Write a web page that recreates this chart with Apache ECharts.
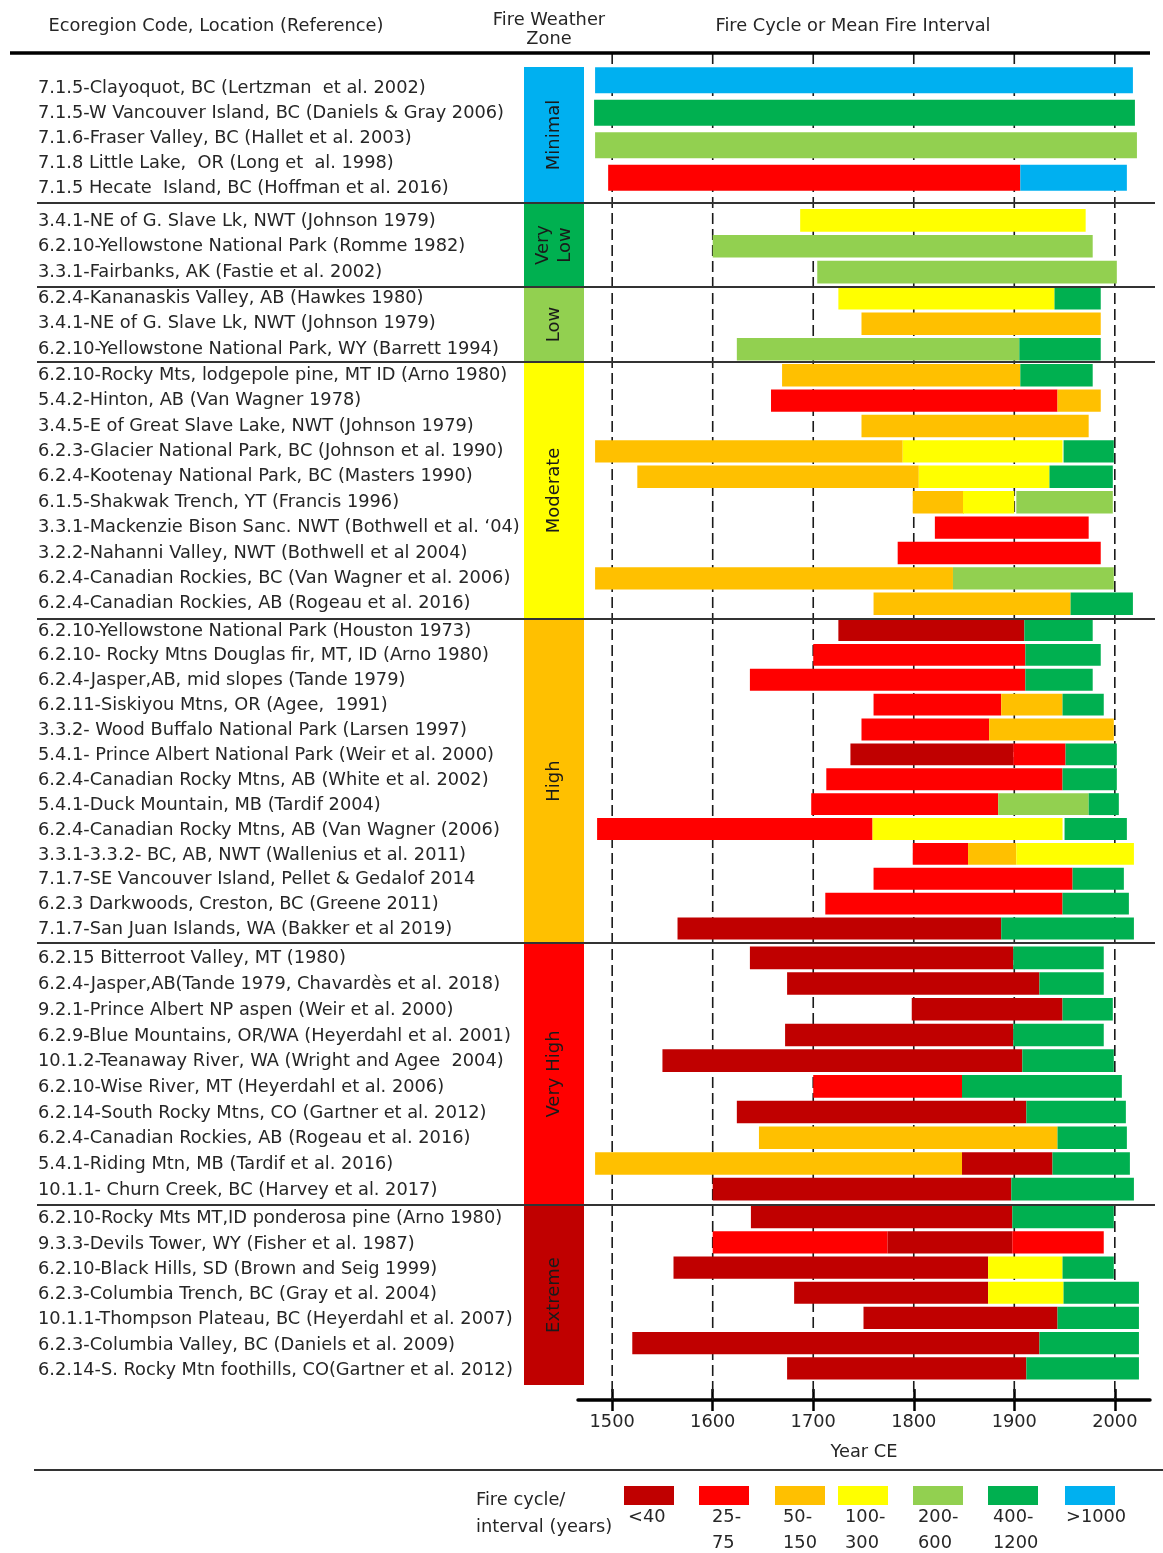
<!DOCTYPE html>
<html><head><meta charset="utf-8">
<script src="https://cdn.jsdelivr.net/npm/echarts@6/dist/echarts.min.js"></script>
<style>html,body{margin:0;padding:0;background:#fff}#c{width:1163px;height:1553px}</style>
</head><body><div id="c"></div>
<script>
// ---------- DATA ----------
const classNames = ['<40', '25-\n75', '50-\n150', '100-\n300', '200-\n600', '400-\n1200', '>1000'];
const classColors = ['#C00000', '#FF0000', '#FFC000', '#FFFF00', '#92D050', '#00B050', '#00B0F0'];
const zoneNames = ['Minimal', 'Very\nLow', 'Low', 'Moderate', 'High', 'Very High', 'Extreme'];
const zoneClass = [6, 5, 4, 3, 2, 1, 0];
const tickYears = [1500, 1600, 1700, 1800, 1900, 2000];

const minimalLabels = [
  '7.1.5-Clayoquot, BC (Lertzman  et al. 2002)',
  '7.1.5-W Vancouver Island, BC (Daniels & Gray 2006)',
  '7.1.6-Fraser Valley, BC (Hallet et al. 2003)',
  '7.1.8 Little Lake,  OR (Long et  al. 1998)',
  '7.1.5 Hecate  Island, BC (Hoffman et al. 2016)'
];
// segments: [start year, end year, class index]
const minimalBars = [
  [[1483, 2018, 6]],
  [[1482, 2020, 5]],
  [[1483, 2022, 4]],
  [[1496, 1906, 1], [1906, 2012, 6]]
];
const veryLowLabels = [
  '3.4.1-NE of G. Slave Lk, NWT (Johnson 1979)',
  '6.2.10-Yellowstone National Park (Romme 1982)',
  '3.3.1-Fairbanks, AK (Fastie et al. 2002)'
];
const veryLowBars = [
  [[1687, 1971, 3]],
  [[1600, 1978, 4]],
  [[1704, 2002, 4]]
];
const lowLabels = [
  '6.2.4-Kananaskis Valley, AB (Hawkes 1980)',
  '3.4.1-NE of G. Slave Lk, NWT (Johnson 1979)',
  '6.2.10-Yellowstone National Park, WY (Barrett 1994)'
];
const lowBars = [
  [[1725, 1940, 3], [1940, 1986, 5]],
  [[1748, 1986, 2]],
  [[1624, 1905, 4], [1905, 1986, 5]]
];
const moderateLabels = [
  '6.2.10-Rocky Mts, lodgepole pine, MT ID (Arno 1980)',
  '5.4.2-Hinton, AB (Van Wagner 1978)',
  '3.4.5-E of Great Slave Lake, NWT (Johnson 1979)',
  '6.2.3-Glacier National Park, BC (Johnson et al. 1990)',
  '6.2.4-Kootenay National Park, BC (Masters 1990)',
  '6.1.5-Shakwak Trench, YT (Francis 1996)',
  '3.3.1-Mackenzie Bison Sanc. NWT (Bothwell et al. \u201804)',
  '3.2.2-Nahanni Valley, NWT (Bothwell et al 2004)',
  '6.2.4-Canadian Rockies, BC (Van Wagner et al. 2006)',
  '6.2.4-Canadian Rockies, AB (Rogeau et al. 2016)'
];
const moderateBars = [
  [[1669, 1906, 2], [1906, 1978, 5]],
  [[1658, 1943, 1], [1943, 1986, 2]],
  [[1748, 1974, 2]],
  [[1483, 1789, 2], [1789, 1948, 3], [1949, 1999, 5]],
  [[1525, 1805, 2], [1805, 1935, 3], [1935, 1998, 5]],
  [[1799, 1850, 2], [1849, 1900, 3], [1902, 1998, 4]],
  [[1821, 1974, 1]],
  [[1784, 1986, 1]],
  [[1483, 1839, 2], [1839, 1999, 4]],
  [[1760, 1956, 2], [1956, 2018, 5]]
];
const highLabels = [
  '6.2.10-Yellowstone National Park (Houston 1973)',
  '6.2.10- Rocky Mtns Douglas fir, MT, ID (Arno 1980)',
  '6.2.4-Jasper,AB, mid slopes (Tande 1979)',
  '6.2.11-Siskiyou Mtns, OR (Agee,  1991)',
  '3.3.2- Wood Buffalo National Park (Larsen 1997)',
  '5.4.1- Prince Albert National Park (Weir et al. 2000)',
  '6.2.4-Canadian Rocky Mtns, AB (White et al. 2002)',
  '5.4.1-Duck Mountain, MB (Tardif 2004)',
  '6.2.4-Canadian Rocky Mtns, AB (Van Wagner (2006)',
  '3.3.1-3.3.2- BC, AB, NWT (Wallenius et al. 2011)',
  '7.1.7-SE Vancouver Island, Pellet & Gedalof 2014',
  '6.2.3 Darkwoods, Creston, BC (Greene 2011)',
  '7.1.7-San Juan Islands, WA (Bakker et al 2019)'
];
const highBars = [
  [[1725, 1910, 0], [1910, 1978, 5]],
  [[1700, 1911, 1], [1911, 1986, 5]],
  [[1637, 1911, 1], [1911, 1978, 5]],
  [[1760, 1887, 1], [1887, 1948, 2], [1948, 1989, 5]],
  [[1748, 1875, 1], [1875, 1999, 2]],
  [[1737, 1899, 0], [1899, 1951, 1], [1951, 2002, 5]],
  [[1713, 1948, 1], [1948, 2002, 5]],
  [[1698, 1884, 1], [1884, 1974, 4], [1974, 2004, 5]],
  [[1485, 1759, 1], [1759, 1948, 3], [1950, 2012, 5]],
  [[1799, 1854, 1], [1854, 1902, 2], [1902, 2019, 3]],
  [[1760, 1958, 1], [1958, 2009, 5]],
  [[1712, 1948, 1], [1948, 2014, 5]],
  [[1565, 1887, 0], [1887, 2019, 5]]
];
const veryHighLabels = [
  '6.2.15 Bitterroot Valley, MT (1980)',
  '6.2.4-Jasper,AB(Tande 1979, Chavard\u00e8s et al. 2018)',
  '9.2.1-Prince Albert NP aspen (Weir et al. 2000)',
  '6.2.9-Blue Mountains, OR/WA (Heyerdahl et al. 2001)',
  '10.1.2-Teanaway River, WA (Wright and Agee  2004)',
  '6.2.10-Wise River, MT (Heyerdahl et al. 2006)',
  '6.2.14-South Rocky Mtns, CO (Gartner et al. 2012)',
  '6.2.4-Canadian Rockies, AB (Rogeau et al. 2016)',
  '5.4.1-Riding Mtn, MB (Tardif et al. 2016)',
  '10.1.1- Churn Creek, BC (Harvey et al. 2017)'
];
const veryHighBars = [
  [[1637, 1899, 0], [1899, 1989, 5]],
  [[1674, 1925, 0], [1925, 1989, 5]],
  [[1798, 1948, 0], [1948, 1998, 5]],
  [[1672, 1899, 0], [1899, 1989, 5]],
  [[1550, 1908, 0], [1908, 1999, 5]],
  [[1700, 1848, 1], [1848, 2007, 5]],
  [[1624, 1912, 0], [1912, 2011, 5]],
  [[1646, 1943, 2], [1943, 2012, 5]],
  [[1483, 1848, 2], [1848, 1938, 0], [1938, 2015, 5]],
  [[1600, 1897, 0], [1897, 2019, 5]]
];
const extremeLabels = [
  '6.2.10-Rocky Mts MT,ID ponderosa pine (Arno 1980)',
  '9.3.3-Devils Tower, WY (Fisher et al. 1987)',
  '6.2.10-Black Hills, SD (Brown and Seig 1999)',
  '6.2.3-Columbia Trench, BC (Gray et al. 2004)',
  '10.1.1-Thompson Plateau, BC (Heyerdahl et al. 2007)',
  '6.2.3-Columbia Valley, BC (Daniels et al. 2009)',
  '6.2.14-S. Rocky Mtn foothills, CO(Gartner et al. 2012)'
];
const extremeBars = [
  [[1638, 1898, 0], [1898, 1999, 5]],
  [[1600, 1774, 1], [1774, 1898, 0], [1898, 1989, 1]],
  [[1561, 1874, 0], [1874, 1948, 3], [1948, 1999, 5]],
  [[1681, 1874, 0], [1874, 1949, 3], [1949, 2024, 5]],
  [[1750, 1943, 0], [1943, 2024, 5]],
  [[1520, 1925, 0], [1925, 2024, 5]],
  [[1674, 1912, 0], [1912, 2024, 5]]
];

// ---------- LAYOUT ----------
const FONT = 'DejaVu Sans';
const FS = 17.8;
const TXT = '#262626';
const X_MIN = 1466, X_MAX = 2035;
const PLOT_LEFT = 578, PLOT_WIDTH = 572;
const PLOT_TOP = 53, PLOT_BOTTOM = 1400;
const LABEL_X = 38;
const zoneLabels = [minimalLabels, veryLowLabels, lowLabels, moderateLabels, highLabels, veryHighLabels, extremeLabels];
const zoneBars = [minimalBars, veryLowBars, lowBars, moderateBars, highBars, veryHighBars, extremeBars];
// label rows top/bottom, bar rows top/bottom, zone box top/bottom
const zoneLayout = [
  { lt: 75.5, lb: 200.5, bt: 64, bb: 194, top: 67, bottom: 203 },
  { lt: 208.5, lb: 285, bt: 207.5, bb: 285, top: 203, bottom: 287 },
  { lt: 285.5, lb: 362, bt: 285.5, bb: 362, top: 287, bottom: 362 },
  { lt: 362.5, lb: 616.5, bt: 362.5, bb: 616.5, top: 362, bottom: 619 },
  { lt: 618.5, lb: 942, bt: 617.5, bb: 941, top: 619, bottom: 943 },
  { lt: 946, lb: 1203, bt: 945, bb: 1202, top: 943, bottom: 1205 },
  { lt: 1206, lb: 1383, bt: 1204.5, bb: 1381, top: 1205, bottom: 1385 }
];
const ZONE_BOX_X = 524, ZONE_BOX_W = 60;
const separatorY = [203, 287, 362, 619, 943, 1205];
const legendSwatchX = [624, 699, 775, 838, 913, 988, 1065];
const legendTextX = [628, 712, 783, 845, 918, 993, 1066];

// ---------- OPTION ----------
const grids = [{ left: PLOT_LEFT, width: PLOT_WIDTH, top: PLOT_TOP, height: PLOT_BOTTOM - PLOT_TOP }];
const xAxes = [
  {
    gridIndex: 0, type: 'value', min: X_MIN, max: X_MAX, position: 'bottom',
    axisLine: { lineStyle: { color: '#000', width: 3.5 } },
    axisTick: { customValues: tickYears, length: 11, lineStyle: { color: '#000', width: 2.5 } },
    axisLabel: { customValues: tickYears, fontSize: FS, fontFamily: FONT, color: TXT, margin: 13,
      formatter: function (v) { return String(v); } },
    splitLine: { show: false },
    name: 'Year CE', nameLocation: 'middle', nameGap: 43,
    nameTextStyle: { fontSize: FS, fontFamily: FONT, color: TXT }
  },
  {
    gridIndex: 0, type: 'value', min: X_MIN, max: X_MAX, position: 'bottom',
    axisLine: { show: false },
    axisTick: { inside: true, customValues: tickYears, length: 11, lineStyle: { color: '#000', width: 2.5 } },
    axisLabel: { show: false }, splitLine: { show: false }
  }
];
const yAxes = [{ gridIndex: 0, type: 'value', min: 0, max: 1, show: false }];
const series = [{
  type: 'custom', xAxisIndex: 0, yAxisIndex: 0, z: 1, silent: true,
  data: tickYears.map(y => [y, 0]),
  encode: { x: 0, y: 1 },
  renderItem: function (params, api) {
    const a = api.coord([api.value(0), 1]);
    const b = api.coord([api.value(0), 0]);
    return { type: 'line', shape: { x1: a[0], y1: a[1], x2: b[0], y2: b[1] },
      style: { stroke: '#1a1a1a', lineWidth: 1.6, lineDash: [11, 5] } };
  }
}];

zoneLabels.forEach(function (labels, i) {
  const L = zoneLayout[i];
  // label grid
  const gLab = grids.length;
  grids.push({ left: PLOT_LEFT, width: PLOT_WIDTH, top: L.lt, height: L.lb - L.lt });
  xAxes.push({ gridIndex: gLab, type: 'value', min: X_MIN, max: X_MAX, show: false });
  yAxes.push({
    gridIndex: gLab, type: 'category', data: labels, inverse: true,
    axisLine: { show: false }, axisTick: { show: false }, splitLine: { show: false },
    axisLabel: { align: 'left', margin: PLOT_LEFT - LABEL_X, fontSize: FS, fontFamily: FONT, color: TXT, interval: 0 }
  });
  // bar grid
  const gBar = grids.length;
  const rows = zoneBars[i];
  grids.push({ left: PLOT_LEFT, width: PLOT_WIDTH, top: L.bt, height: L.bb - L.bt });
  const xi = xAxes.length;
  xAxes.push({ gridIndex: gBar, type: 'value', min: X_MIN, max: X_MAX, show: false });
  const yi = yAxes.length;
  yAxes.push({ gridIndex: gBar, type: 'category', data: rows.map((r, k) => String(k)), inverse: true, show: false });
  const data = [];
  rows.forEach(function (segs, r) {
    segs.forEach(function (s) { data.push([s[0], s[1], r, s[2]]); });
  });
  series.push({
    type: 'custom', xAxisIndex: xi, yAxisIndex: yi, z: 3, silent: true,
    data: data, encode: { x: [0, 1], y: 2 },
    renderItem: function (params, api) {
      const r = api.value(2);
      const s = api.coord([api.value(0), r]);
      const e = api.coord([api.value(1), r]);
      const band = api.size([0, 1])[1];
      const h = Math.min(band * 0.88, 26);
      return { type: 'rect', shape: { x: s[0], y: s[1] - h / 2, width: e[0] - s[0], height: h },
        style: { fill: classColors[api.value(3)] } };
    }
  });
});

const graphic = [];
const font = FS + 'px ' + FONT;
// header
graphic.push({ type: 'text', x: 216, y: 26, style: { text: 'Ecoregion Code, Location (Reference)', font: font, fill: TXT, textAlign: 'center', textVerticalAlign: 'middle' } });
graphic.push({ type: 'text', x: 549, y: 29.5, style: { text: 'Fire Weather\nZone', font: font, fill: TXT, textAlign: 'center', textVerticalAlign: 'middle', lineHeight: 19 } });
graphic.push({ type: 'text', x: 853, y: 26, style: { text: 'Fire Cycle or Mean Fire Interval', font: font, fill: TXT, textAlign: 'center', textVerticalAlign: 'middle' } });
graphic.push({ type: 'line', shape: { x1: 10, y1: PLOT_TOP, x2: 1150, y2: PLOT_TOP }, style: { stroke: '#000', lineWidth: 3.5 }, z: 10 });
separatorY.forEach(function (y) {
  graphic.push({ type: 'line', shape: { x1: 37, y1: y, x2: 1155, y2: y }, style: { stroke: '#333', lineWidth: 2 }, z: 10 });
});
// zone boxes
zoneNames.forEach(function (n, i) {
  const L = zoneLayout[i];
  graphic.push({ type: 'rect', shape: { x: ZONE_BOX_X, y: L.top, width: ZONE_BOX_W, height: L.bottom - L.top }, style: { fill: classColors[zoneClass[i]] }, z: 5 });
  graphic.push({ type: 'text', x: ZONE_BOX_X + ZONE_BOX_W / 2, y: (L.top + L.bottom) / 2, rotation: Math.PI / 2,
    style: { text: n, font: '18px ' + FONT, fill: '#1a1a1a', textAlign: 'center', textVerticalAlign: 'middle', lineHeight: 22 }, z: 6 });
});
// legend
graphic.push({ type: 'line', shape: { x1: 34, y1: 1470, x2: 1163, y2: 1470 }, style: { stroke: '#333', lineWidth: 2 } });
graphic.push({ type: 'text', x: 476, y: 1486.5, style: { text: 'Fire cycle/\ninterval (years)', font: font, fill: TXT, textAlign: 'left', textVerticalAlign: 'top', lineHeight: 27 } });
classNames.forEach(function (n, i) {
  graphic.push({ type: 'rect', shape: { x: legendSwatchX[i], y: 1486, width: 50, height: 19 }, style: { fill: classColors[i] } });
  graphic.push({ type: 'text', x: legendTextX[i], y: 1504, style: { text: n, font: font, fill: TXT, textAlign: 'left', textVerticalAlign: 'top', lineHeight: 26 } });
});

const chart = echarts.init(document.getElementById('c'), null, { renderer: 'canvas' });
chart.setOption({
  animation: false,
  backgroundColor: '#fff',
  grid: grids, xAxis: xAxes, yAxis: yAxes, series: series, graphic: graphic
});
</script>
</body></html>
